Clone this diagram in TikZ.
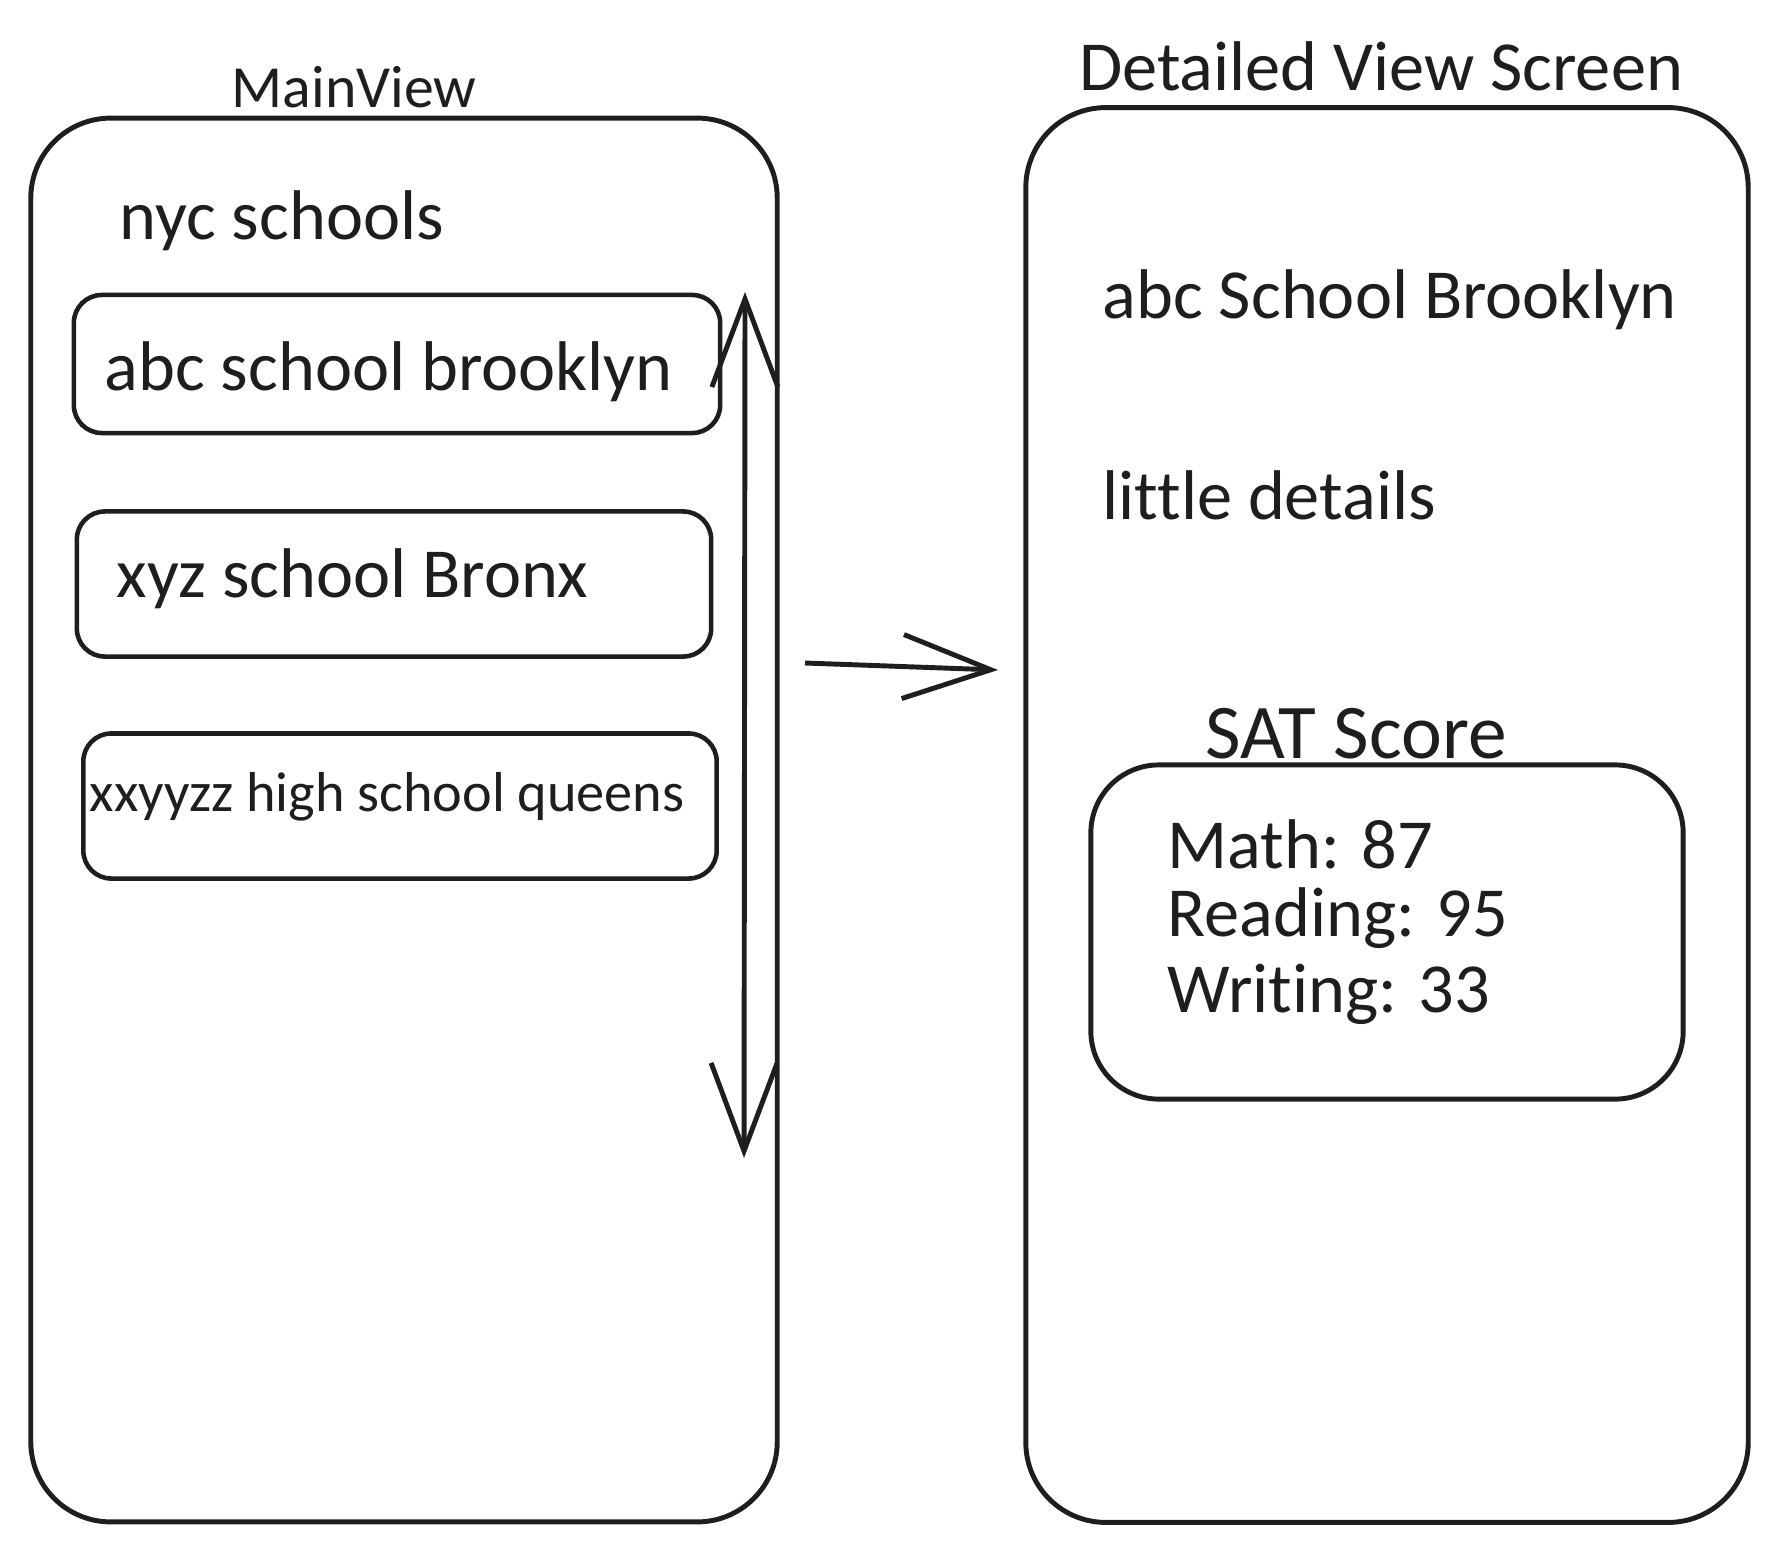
\documentclass[tikz,border=0pt]{standalone}
\usepackage{fontspec}
\setmainfont{Carlito}[Ligatures=NoCommon]
\usetikzlibrary{arrows.meta}
\definecolor{scrInk}{HTML}{1E1E1E}
\tikzset{
  scr frame/.style={draw=scrInk, line width=1.4pt, rounded corners=8mm, inner sep=0pt},
  scr row/.style={draw=scrInk, line width=1.3pt, rounded corners=2.8mm, inner sep=0pt},
  scr text/.style={font=\fontsize{20}{24}\selectfont, text=scrInk, inner sep=0pt},
  scr small text/.style={font=\fontsize{16}{19}\selectfont, text=scrInk, inner sep=0pt},
  scr arrow/.style={draw=scrInk, line width=1.4pt, -{Straight Barb[length=8.8mm,width=6.4mm]}},
}

\begin{document}
\begin{tikzpicture}[x=.01cm,y=-.01cm]
  \useasboundingbox (0,0) rectangle (1777,1552);
  % main list screen
  \node[scr frame, minimum width=7.46cm, minimum height=14.03cm] (mainframe) at (404,820) {};
  \node[scr small text, font=\fontsize{17}{20}\selectfont] (maintitle) at (354,87) {MainView};
  \node[scr text, anchor=west] (listhead) at (119,221) {nyc schools};
  \node[scr row, minimum width=6.46cm, minimum height=1.38cm] (rowa) at (397,364) {};
  \node[scr text, anchor=west] (rowatext) at (104,372) {abc school brooklyn};
  \node[scr row, minimum width=6.34cm, minimum height=1.45cm] (rowb) at (394,584) {};
  \node[scr text, anchor=west] (rowbtext) at (116,579) {xyz school Bronx};
  \node[scr row, minimum width=6.33cm, minimum height=1.45cm] (rowc) at (400,806) {};
  \node[scr small text, anchor=west] (rowctext) at (89,797) {xxyyzz high school queens};
  % scroll
  \coordinate (scrolltop) at (745,292);
  \coordinate (scrollbot) at (744,1158);
  \draw[scr arrow, {Straight Barb[length=8.8mm,width=6.6mm]}-{Straight Barb[length=8.8mm,width=6.6mm]}] (scrolltop) -- (scrollbot);
  % detail screen
  \node[scr frame, minimum width=7.22cm, minimum height=14.14cm] (detailframe) at (1387,815) {};
  \node[scr text] (detailtitle) at (1381,66) {Detailed View Screen};
  \node[scr text, anchor=west] (schoolname) at (1102,300) {abc School Brooklyn};
  \node[scr text, anchor=west] (schoolinfo) at (1102,495) {little details};
  \node[scr text, font=\fontsize{22}{26}\selectfont] (sattitle) at (1356,734) {SAT Score};
  \node[scr frame, rounded corners=6.8mm, minimum width=5.92cm, minimum height=3.34cm] (satbox) at (1387,932) {};
  \node[scr text, anchor=west] (satmath) at (1167,844) {Math: 87};
  \node[scr text, anchor=west] (satread) at (1167,918) {Reading: 95};
  \node[scr text, anchor=west] (satwrite) at (1167,994) {Writing: 33};
  % open detail
  \coordinate (openfrom) at (805,663);
  \coordinate (opento) at (998,670);
  \draw[scr arrow] (openfrom) -- (opento);
\end{tikzpicture}
\end{document}
